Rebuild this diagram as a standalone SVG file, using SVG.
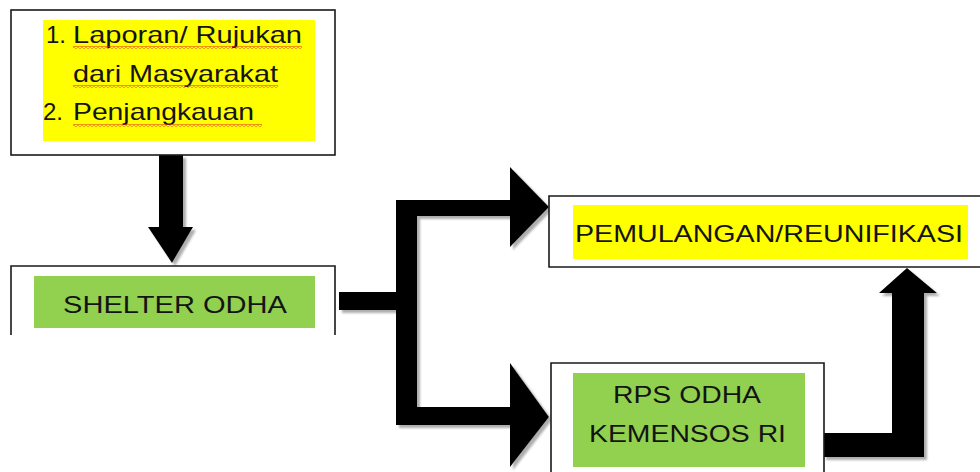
<svg xmlns="http://www.w3.org/2000/svg" width="980" height="472" viewBox="0 0 980 472">
<defs>
<style>
.box{fill:#fff;stroke:#1a1a1a;stroke-width:1.6}
.open{fill:none;stroke:#1a1a1a;stroke-width:1.6}
.yel{fill:#ffff00}
.grn{fill:#92d050}
.t{font-family:"Liberation Sans",Arial,sans-serif;font-size:24px;fill:#141414}
.arr{fill:#000;filter:url(#sh)}
.wavy{fill:url(#wave)}
</style>
<filter id="sh" x="-20%" y="-20%" width="140%" height="140%">
<feDropShadow dx="3" dy="3" stdDeviation="1" flood-color="#8a8a8a" flood-opacity="0.7"/>
</filter>
<pattern id="wave" width="4" height="3" patternUnits="userSpaceOnUse">
<polyline points="0,0.6 2,2.4 4,0.6" fill="none" stroke="#e02020" stroke-width="0.9"/>
</pattern>
</defs>

<g id="connectors">
<polygon class="arr" points="159,155 183,155 183,227 193,227 172,263 148,227 159,227"/>
<polygon class="arr" points="339,292 396,292 396,200 510,200 510,167 549,207 510,247 510,216 417,216 417,407 510,407 510,363 549,417 510,467 510,425 396,425 396,310 339,310"/>
<polygon class="arr" points="823,433 892,433 892,293 879,293 907,268 937,293 924,293 924,457 823,457"/>
</g>

<g id="node-sumber">
<rect class="box" x="11" y="10" width="324" height="145"/>
<rect class="yel" x="43" y="20" width="272" height="121"/>
<text class="t" x="46" y="43">1.</text>
<text class="t" x="73" y="43" textLength="229" lengthAdjust="spacingAndGlyphs">Laporan/ Rujukan</text>
<text class="t" x="73" y="82" textLength="205" lengthAdjust="spacingAndGlyphs">dari Masyarakat</text>
<text class="t" x="43" y="120">2.</text>
<text class="t" x="73" y="120" textLength="181" lengthAdjust="spacingAndGlyphs">Penjangkauan</text>
<rect class="wavy" x="73" y="46" width="229" height="3"/>
<rect class="wavy" x="73" y="85" width="205" height="3"/>
<rect class="wavy" x="73" y="124" width="189" height="3"/>
</g>

<g id="node-shelter">
<path class="open" d="M11,335 V266 H335 V335"/>
<rect class="grn" x="34" y="276" width="281" height="52"/>
<text class="t" x="63" y="313" textLength="224" lengthAdjust="spacingAndGlyphs">SHELTER ODHA</text>
</g>

<g id="node-pemulangan">
<path class="box" d="M985,196 H549 V267 H985"/>
<rect class="yel" x="573" y="205" width="395" height="54"/>
<text class="t" x="575" y="242" textLength="388" lengthAdjust="spacingAndGlyphs">PEMULANGAN/REUNIFIKASI</text>
</g>

<g id="node-rps">
<path class="box" d="M551,475 V363 H824 V475"/>
<rect class="grn" x="573" y="373" width="232" height="94"/>
<text class="t" x="613" y="403" textLength="148" lengthAdjust="spacingAndGlyphs">RPS ODHA</text>
<text class="t" x="589" y="442" textLength="197" lengthAdjust="spacingAndGlyphs">KEMENSOS RI</text>
</g>
</svg>
